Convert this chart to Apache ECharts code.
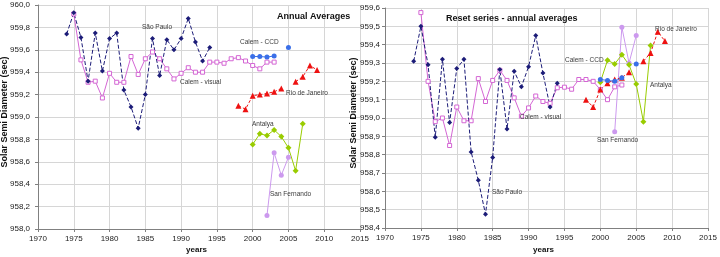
<!DOCTYPE html>
<html>
<head>
<meta charset="utf-8">
<script src="https://cdn.jsdelivr.net/npm/echarts@6/dist/echarts.min.js"></script>
<style>html,body{margin:0;padding:0;background:#fff}#c{width:720px;height:257px}</style>
</head>
<body>
<div id="c"></div>
<script>
// ---------- Data: left chart (Annual Averages) ----------
const spYearsL = [1974,1975,1976,1977,1978,1979,1980,1981,1982,1983,1984,1985,1986,1987,1988,1989,1990,1991,1992,1993,1994];
const spValsL  = [959.74,959.93,959.71,959.32,959.75,959.41,959.70,959.75,959.24,959.09,958.90,959.20,959.70,959.37,959.69,959.60,959.70,959.88,959.67,959.50,959.62];
const visYearsL = [1975,1976,1977,1978,1979,1980,1981,1982,1983,1984,1985,1986,1987,1988,1989,1990,1991,1992,1993,1994,1995,1996,1997,1998,1999,2000,2001,2002,2003];
const visValsL  = [959.92,959.51,959.31,959.32,959.17,959.39,959.31,959.31,959.54,959.38,959.52,959.58,959.52,959.43,959.34,959.39,959.44,959.40,959.40,959.49,959.49,959.48,959.52,959.53,959.50,959.46,959.43,959.49,959.49];
const ccdYearsL = [2000,2001,2002,2003,2004,2005];
const ccdValsL  = [959.54,959.54,959.535,959.545,null,959.62];
const rioYearsL = [1998,1999,2000,2001,2002,2003,2004,2005,2006,2007,2008,2009];
const rioValsL  = [959.10,959.07,959.19,959.20,959.21,959.225,959.255,null,959.315,959.36,959.46,959.42];
const antYearsL = [2000,2001,2002,2003,2004,2005,2006,2007];
const antValsL  = [958.755,958.85,958.835,958.885,958.825,958.725,958.52,958.94];
const sfYearsL = [2002,2003,2004,2005];
const sfValsL  = [958.12,958.68,958.48,958.64];

// ---------- Data: right chart (Reset series) ----------
const spYearsR = spYearsL;
const spValsR  = [959.31,959.50,959.29,958.895,959.32,958.975,959.27,959.32,958.815,958.66,958.475,958.785,959.265,958.94,959.255,959.17,959.28,959.45,959.245,959.06,959.19];
const visYearsR = visYearsL;
const visValsR  = [959.575,959.20,958.98,959.00,958.85,959.06,958.985,958.985,959.215,959.09,959.205,959.26,959.205,959.11,959.01,959.055,959.12,959.09,959.08,959.165,959.168,959.157,959.21,959.21,959.20,959.155,959.10,959.17,959.18];
const ccdYearsR = ccdYearsL;
const ccdValsR  = [959.21,959.205,959.20,959.22,null,959.295];
const rioYearsR = rioYearsL;
const rioValsR  = [959.10,959.06,959.155,959.19,959.21,959.22,959.25,null,959.31,959.355,959.47,959.42];
const antYearsR = antYearsL;
const antValsR  = [959.195,959.315,959.295,959.345,959.29,959.185,958.98,959.395];
const sfYearsR = sfYearsL;
const sfValsR  = [958.925,959.495,959.30,959.45];

// ---------- Axis ticks ----------
const xTicks = {min:1970, max:2015, interval:5};
const yTicksL = {min:958.0, max:960.0, interval:0.2};
const yTicksR = {min:958.4, max:959.6, interval:0.1};

const FONT = 'Liberation Sans, Arial, sans-serif';
const pair = (xs, ys) => xs.map((x,i) => [x, ys[i]]);

const styles = {
  sp:  {color:'#1c1c78', symbol:'diamond', size:5, open:false, line:{type:[4,2], width:1}},
  vis: {color:'#d466d4', symbol:'rect', size:4, open:true, line:{type:'solid', width:1}},
  ccd: {color:'#3a6fe8', symbol:'circle', size:5, open:false, line:{type:'solid', width:1}},
  rio: {color:'#ee1111', symbol:'triangle', size:6, open:false, line:{type:[3,2], width:1}},
  ant: {color:'#99cc00', symbol:'diamond', size:6, open:false, line:{type:'solid', width:1}},
  sf:  {color:'#cc99ee', symbol:'circle', size:5, open:false, line:{type:'solid', width:1}}
};
function mk(key, data, gi){
  const s = styles[key];
  return {type:'line', xAxisIndex:gi, yAxisIndex:gi, data:data, symbol:s.symbol, symbolSize:s.size,
    showSymbol:true, showAllSymbol:true, connectNulls:false, animation:false, silent:true,
    lineStyle:{color:s.color, width:s.line.width, type:s.line.type},
    itemStyle:{color: s.open ? '#ffffff' : s.color, borderColor:s.color, borderWidth: s.open?1:0, opacity:1}};
}
function xAx(gi){
  return {type:'value', gridIndex:gi, min:xTicks.min, max:xTicks.max, interval:xTicks.interval,
    axisLine:{show:true, onZero:false, lineStyle:{color:'#808080'}},
    axisTick:{show:true, length:3, lineStyle:{color:'#808080'}},
    axisLabel:{fontFamily:FONT, fontSize:8, color:'#222', margin:6, formatter:v => String(v)},
    splitLine:{show:true, lineStyle:{color:'#d6d6d6', width:1}}};
}
function yAx(gi, t, margin){
  return {type:'value', gridIndex:gi, min:t.min, max:t.max, interval:t.interval,
    axisLine:{show:true, lineStyle:{color:'#808080'}},
    axisTick:{show:true, length:3, lineStyle:{color:'#808080'}},
    axisLabel:{fontFamily:FONT, fontSize:8, color:'#222', margin:margin,
      formatter:v => v.toFixed(1).replace('.', ',')},
    splitLine:{show:true, lineStyle:{color:'#d6d6d6', width:1}}};
}
function txt(x, y, s, opt){
  opt = opt || {};
  return {type:'text', x:x, y:y, rotation:opt.rot||0, silent:true, z:10,
    style:{text:s, fontFamily:FONT, fontSize:opt.size||6.5, fontWeight:opt.bold?'bold':'normal',
      fill:opt.color||'#3a3a3a', textAlign:opt.align||'left', textVerticalAlign:'middle'}};
}

const chart = echarts.init(document.getElementById('c'), null, {renderer:'canvas'});
chart.setOption({
  animation:false,
  grid:[
    {left:38, top:5, width:322, height:224, containLabel:false},
    {left:385, top:8, width:323, height:220, containLabel:false}
  ],
  xAxis:[xAx(0), xAx(1)],
  yAxis:[yAx(0, yTicksL, 8), yAx(1, yTicksR, 5)],
  series:[
    mk('vis', pair(visYearsL, visValsL), 0),
    mk('sp',  pair(spYearsL, spValsL), 0),
    mk('ccd', pair(ccdYearsL, ccdValsL), 0),
    mk('rio', pair(rioYearsL, rioValsL), 0),
    mk('ant', pair(antYearsL, antValsL), 0),
    mk('sf',  pair(sfYearsL, sfValsL), 0),
    mk('vis', pair(visYearsR, visValsR), 1),
    mk('sp',  pair(spYearsR, spValsR), 1),
    mk('sf',  pair(sfYearsR, sfValsR), 1),
    mk('ant', pair(antYearsR, antValsR), 1),
    mk('rio', pair(rioYearsR, rioValsR), 1),
    mk('ccd', pair(ccdYearsR, ccdValsR), 1)
  ],
  graphic:[
    txt(277, 17, 'Annual Averages', {bold:true, size:9, color:'#111'}),
    txt(142, 27, 'São Paulo'),
    txt(180, 82, 'Calem - visual'),
    txt(240, 42, 'Calem - CCD'),
    txt(286, 93, 'Rio de Janeiro'),
    txt(252, 124, 'Antalya'),
    txt(270, 194, 'San Fernando'),
    txt(446, 19, 'Reset series - annual averages', {bold:true, size:9, color:'#111'}),
    txt(565, 60, 'Calem - CCD'),
    txt(520, 117, 'Calem - visual'),
    txt(655, 29, 'Rio de Janeiro'),
    txt(650, 85, 'Antalya'),
    txt(597, 140, 'San Fernando'),
    txt(492, 192, 'São Paulo'),
    txt(5, 112, 'Solar Semi Diameter (sec)', {bold:true, size:9, color:'#111', align:'center', rot:Math.PI/2}),
    txt(354, 113, 'Solar Semi Diameter (sec)', {bold:true, size:9, color:'#111', align:'center', rot:Math.PI/2}),
    txt(196.5, 250, 'years', {bold:true, size:8, color:'#111', align:'center'}),
    txt(543.5, 250, 'years', {bold:true, size:8, color:'#111', align:'center'})
  ]
});
</script>
</body>
</html>
